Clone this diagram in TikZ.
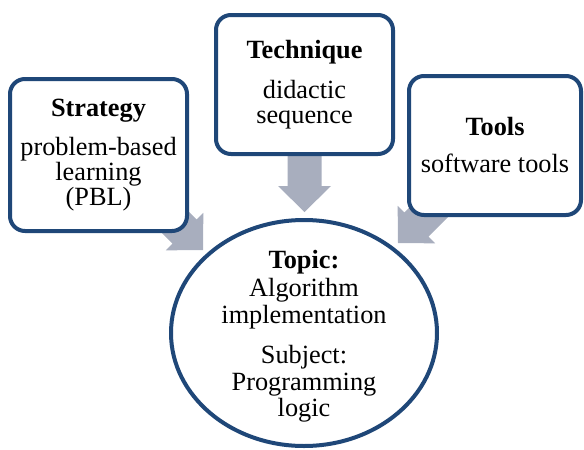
\documentclass[tikz,border=0pt]{standalone}
\usepackage{fontspec}
\setmainfont{Liberation Serif}
\usetikzlibrary{calc,backgrounds,shapes.geometric}
\definecolor{bordblue}{RGB}{31,71,120}
\definecolor{arrgray}{RGB}{168,174,190}
\tikzset{
  box/.style={draw=bordblue, line width=4pt, rounded corners=15pt, fill=white,
    align=center, inner sep=0pt, font=\fontsize{26.3}{25}\selectfont},
  topicshape/.style={draw=bordblue, line width=4pt, ellipse, fill=white,
    inner sep=0pt, minimum width=266pt, minimum height=226pt},
  topictext/.style={align=center, inner sep=0pt, font=\fontsize{26.3}{26.7}\selectfont},
  arrowbody/.style={fill=arrgray}
}
% block arrow from #1 to tip #2
\newcommand\blkarrow[2]{%
  \coordinate (#2-base) at ($(#2)!26pt!(#1)$);
  \fill[arrowbody] ($(#1)!17pt!90:(#2)$) -- ($(#2-base)!17pt!90:(#2)$)
    -- ($(#2-base)!26.5pt!90:(#2)$) -- (#2)
    -- ($(#2-base)!26.5pt!-90:(#2)$) -- ($(#2-base)!17pt!-90:(#2)$)
    -- ($(#1)!17pt!-90:(#2)$) -- cycle;%
}
\begin{document}
\begin{tikzpicture}[x=1pt,y=-1pt]
\useasboundingbox (0,0) rectangle (584,450);

\node[box, minimum width=177pt, minimum height=152pt] (strategy) at (98.5,155)
  {\textbf{Strategy}\\[14pt]problem-based\\learning\\(PBL)};
\node[box, minimum width=177pt, minimum height=139pt] (technique) at (304.5,84.5)
  {\textbf{Technique}\\[15pt]didactic\\sequence};
\node[box, minimum width=172pt, minimum height=139pt] (tools) at (495,145.5)
  {\textbf{Tools}\\[12pt]software tools};
\node[topicshape] (topic) at (304,333) {};
\node[topictext] (topictxt) at (304,336.3)
  {\textbf{Topic:}\\[1.7pt]Algorithm\\implementation\\[13.3pt]Subject:\\Programming\\logic};

\coordinate (tipS) at (203,250);
\coordinate (startS) at (123,170);
\coordinate (tipT) at (304.5,212);
\coordinate (tipR) at (398,243);
\coordinate (startR) at (458,183);

\begin{pgfonlayer}{background}
  \blkarrow{startS}{tipS}
  \blkarrow{technique}{tipT}
  \blkarrow{startR}{tipR}
\end{pgfonlayer}
\end{tikzpicture}
\end{document}
